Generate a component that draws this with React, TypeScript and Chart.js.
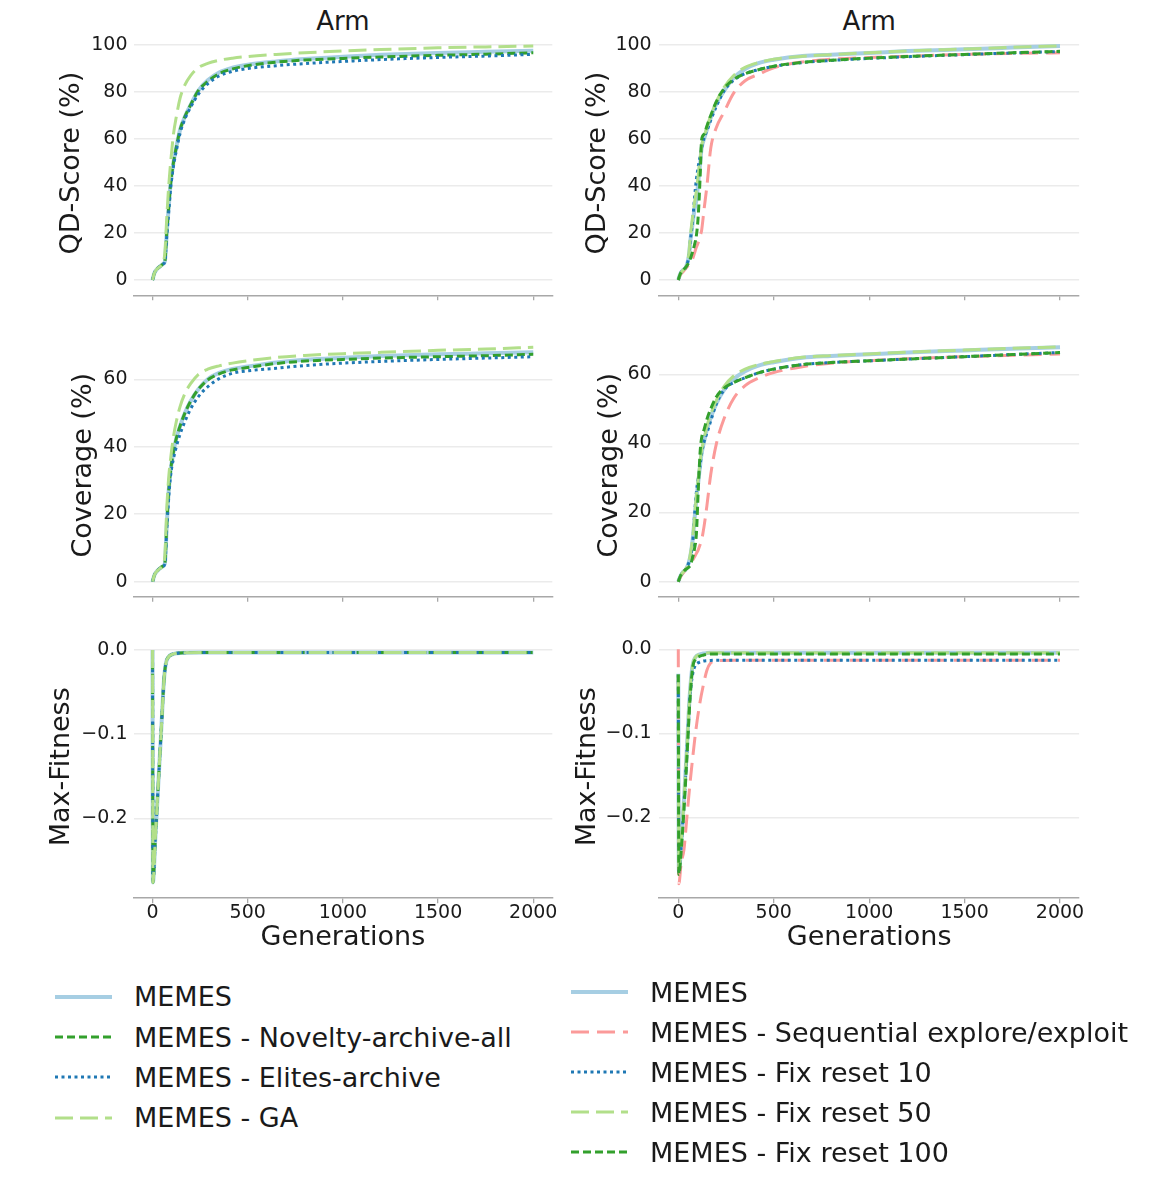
import React, { useEffect, useRef } from 'react';
import { Chart, registerables } from 'chart.js';

Chart.register(...registerables);

const FONT = '"DejaVu Sans", Verdana, sans-serif';

// ---------------- DATA: left column ----------------
const genL = [0, 10, 25, 40, 55, 65, 75, 85, 95, 110, 125, 145, 170, 200, 240, 290, 350, 420, 500, 650, 800, 1000, 1200, 1500, 1750, 2000];
const qdMemesL = [0, 3, 4.8, 5.8, 6.8, 8, 20.5, 31, 41, 50, 56.5, 64, 69.5, 74.5, 80.5, 85, 88.3, 90.3, 91.6, 93, 94, 95, 95.8, 96.6, 97.1, 97.6];
const qdNoveltyL = [0, 3, 4.8, 5.8, 6.8, 8, 20.5, 31, 41, 50, 56.5, 64, 69.5, 74.5, 80.5, 84.5, 87.8, 89.8, 91.2, 92.7, 93.6, 94.3, 94.9, 95.6, 96.1, 96.7];
const qdElitesL = [0, 3, 4.8, 5.8, 6.8, 7.8, 19, 29, 39, 48.5, 55, 62.5, 68.5, 73.5, 79, 83.5, 86.8, 88.8, 90, 91.2, 92.1, 93, 93.8, 94.7, 95.3, 96];
const qdGaL = [0, 3, 4.8, 5.8, 7, 12, 27, 40, 50, 62, 69.5, 77.5, 83, 87, 90.3, 92.2, 93.5, 94.4, 95.1, 96, 96.7, 97.5, 98.1, 98.8, 99.2, 99.6];

const covMemesL = [0, 2, 3.2, 4, 4.6, 5.5, 17, 27, 33, 38.5, 42.5, 46.2, 50, 53.5, 57, 60, 61.9, 63.1, 63.8, 65, 65.8, 66.4, 66.9, 67.4, 67.7, 68];
const covNoveltyL = [0, 2, 3.2, 4, 4.6, 5.5, 17, 27, 33, 38.5, 42.5, 46.2, 50, 53.5, 57, 59.8, 61.6, 62.8, 63.5, 64.7, 65.4, 65.9, 66.3, 66.7, 67, 67.4];
const covElitesL = [0, 2, 3.2, 4, 4.6, 5.3, 16, 25, 31.5, 36.5, 40, 43.8, 47.5, 51.2, 54.8, 57.8, 60.2, 61.8, 62.5, 63.3, 64.1, 64.8, 65.3, 65.9, 66.3, 66.7];
const covGaL = [0, 2, 3.2, 4, 4.8, 8, 22, 31, 36.5, 43, 47.5, 52, 55.8, 58.7, 61.4, 63, 64, 64.8, 65.5, 66.5, 67.1, 67.6, 68, 68.6, 69, 69.5];

const genFitL = [0, 2, 15, 30, 45, 60, 70, 85, 100, 130, 170, 250, 500, 1000, 1500, 2000];
const fitMemesL = [0, -0.276, -0.222, -0.16, -0.098, -0.036, -0.016, -0.008, -0.0055, -0.0038, -0.0032, -0.003, -0.003, -0.003, -0.003, -0.003];
const fitNoveltyL = [0, -0.276, -0.222, -0.16, -0.098, -0.036, -0.016, -0.008, -0.0055, -0.0038, -0.0032, -0.003, -0.003, -0.003, -0.003, -0.003];
const fitElitesL = [0, -0.276, -0.222, -0.16, -0.098, -0.036, -0.016, -0.008, -0.0055, -0.0038, -0.0032, -0.003, -0.003, -0.003, -0.003, -0.003];
const fitGaL = [0, -0.276, -0.222, -0.16, -0.098, -0.036, -0.016, -0.008, -0.0055, -0.0038, -0.0032, -0.003, -0.003, -0.003, -0.003, -0.003];

// ---------------- DATA: right column ----------------
const genR = [0, 10, 25, 40, 55, 65, 75, 85, 95, 105, 115, 122, 135, 150, 170, 200, 240, 290, 350, 420, 500, 650, 800, 1000, 1200, 1500, 1750, 2000];
const qdMemesR = [0, 2.5, 4.2, 5.5, 10, 18, 24, 30, 34, 42, 50, 56, 60, 64, 69, 75, 80.5, 86, 89.8, 92.3, 93.7, 95.3, 95.9, 96.6, 97.4, 98.2, 98.9, 99.6];
const qdSeqR = [0, 2, 3.5, 5, 6.5, 7.5, 9, 11.5, 14, 16, 19, 21, 30, 40, 56, 65, 71.5, 79.5, 84.8, 87.5, 90.3, 92.8, 94, 94.7, 95.2, 96, 96.4, 96.7];
const qdFix10R = [0, 2.5, 4.2, 5.5, 10, 18, 25, 35, 43, 48.5, 53, 56, 60.5, 63.5, 68, 74, 80.5, 85, 87.8, 89.5, 90.9, 92.5, 93.4, 94.3, 95, 95.9, 96.6, 97.2];
const qdFix50R = [0, 2.5, 4.2, 5.5, 11, 20, 27, 33, 38, 45, 52, 57, 61, 65, 70, 76, 82, 87, 90.5, 92.5, 93.9, 95.2, 95.9, 96.7, 97.5, 98.3, 99, 99.6];
const qdFix100R = [0, 2.5, 4.2, 5.5, 7.5, 9.5, 12, 15, 19, 28, 45, 59.5, 62, 65.5, 70, 76, 81.5, 85.3, 87.8, 89.5, 91, 92.6, 93.5, 94.4, 95.1, 96, 96.7, 97.3];

const covMemesR = [0, 1.5, 2.8, 3.6, 5.5, 8, 12, 18, 24, 29, 34, 37, 40.5, 44, 47.5, 51.6, 55.5, 58.6, 60.9, 62.5, 63.5, 64.8, 65.3, 65.8, 66.3, 66.9, 67.4, 67.8];
const covSeqR = [0, 1.2, 2.5, 3.6, 4.6, 5.4, 6.2, 7.2, 8.2, 9.3, 10.8, 12, 16, 22, 31, 40, 47.2, 53, 56.7, 58.9, 60.5, 62.2, 63.2, 63.9, 64.5, 65.1, 65.5, 65.9];
const covFix10R = [0, 1.5, 2.8, 3.6, 5.5, 7.5, 11, 19, 26, 30, 34, 37, 40.5, 43, 46.5, 51.5, 55.5, 57.6, 59, 60.4, 61.5, 62.8, 63.4, 63.9, 64.4, 65.1, 65.7, 66.3];
const covFix50R = [0, 1.5, 2.8, 3.6, 5.8, 8.5, 12.5, 18.5, 25, 30, 35, 38, 41.5, 45, 48.5, 52.5, 56.5, 59.5, 61.5, 62.8, 63.7, 64.9, 65.4, 65.9, 66.4, 67, 67.5, 67.9];
const covFix100R = [0, 1.5, 2.8, 3.6, 4.2, 5, 7, 9.5, 14, 27, 38, 41.5, 44, 47, 50, 53.5, 56, 57.6, 59, 60.4, 61.5, 62.8, 63.4, 63.9, 64.4, 65.1, 65.7, 66.3];

const genFitR = [0, 3, 15, 30, 45, 60, 75, 90, 110, 130, 150, 170, 200, 300, 500, 1000, 1500, 2000];
const fitMemesR = [-0.029, -0.265, -0.232, -0.178, -0.118, -0.055, -0.019, -0.0095, -0.0062, -0.005, -0.0045, -0.0042, -0.004, -0.004, -0.004, -0.004, -0.004, -0.004];
const fitSeqR = [0, -0.279, -0.255, -0.238, -0.2, -0.163, -0.13, -0.1, -0.068, -0.044, -0.025, -0.016, -0.0135, -0.013, -0.013, -0.013, -0.013, -0.013];
const fitFix10R = [-0.03, -0.266, -0.235, -0.183, -0.123, -0.06, -0.03, -0.019, -0.0155, -0.014, -0.0135, -0.0132, -0.013, -0.013, -0.013, -0.013, -0.013, -0.013];
const fitFix50R = [-0.03, -0.265, -0.232, -0.178, -0.118, -0.055, -0.019, -0.0095, -0.0062, -0.005, -0.0045, -0.0042, -0.004, -0.004, -0.004, -0.004, -0.004, -0.004];
const fitFix100R = [-0.03, -0.268, -0.24, -0.19, -0.13, -0.065, -0.022, -0.012, -0.0085, -0.007, -0.006, -0.0056, -0.0055, -0.0055, -0.0055, -0.0055, -0.0055, -0.0055];

// ---------------- ticks / labels ----------------
const xTicks = [0, 500, 1000, 1500, 2000];
const xTickLabels = ['0', '500', '1000', '1500', '2000'];
const qdTicks = [0, 20, 40, 60, 80, 100];
const covTicks = [0, 20, 40, 60];
const fitTicks = [-0.2, -0.1, 0];
const columnTitle = 'Arm';
const xTitle = 'Generations';
const yTitles = ['QD-Score (%)', 'Coverage (%)', 'Max-Fitness'];

const labelsL = ['MEMES', 'MEMES - Novelty-archive-all', 'MEMES - Elites-archive', 'MEMES - GA'];
const labelsR = ['MEMES', 'MEMES - Sequential explore/exploit', 'MEMES - Fix reset 10', 'MEMES - Fix reset 50', 'MEMES - Fix reset 100'];

// ---------------- styles ----------------
type Style = { color: string; dash: number[]; width: number };
const S_MEMES: Style = { color: '#a6cee3', dash: [], width: 4 };
const S_SHORT: Style = { color: '#33a02c', dash: [8, 4], width: 3 };
const S_DOT: Style = { color: '#1f78b4', dash: [3, 3.5], width: 3 };
const S_GA: Style = { color: '#b2df8a', dash: [18, 7], width: 3 };
const S_SEQ: Style = { color: '#fb9a99', dash: [18, 8], width: 3 };

const stylesL = [S_MEMES, S_SHORT, S_DOT, S_GA];
const stylesR = [S_MEMES, S_SEQ, S_DOT, S_GA, S_SHORT];

type Series = { label: string; style: Style; gens: number[]; values: number[] };

function mk(labels: string[], styles: Style[], gens: number[], vals: number[][]): Series[] {
  return vals.map((v, i) => ({ label: labels[i], style: styles[i], gens, values: v }));
}

const cols = [
  { canvasLeft: 0, canvasW: 565, plotLeft: 133.5, plotRight: 552.3, titlePad: [55.5, 67.8, 45.5], tickPad: 6 },
  { canvasLeft: 565, canvasW: 591, plotLeft: 659.2, plotRight: 1079.1, titlePad: [16.8, 28.8, 6.3], tickPad: 7.5 },
];
// canvases overlap a little so that every chart has enough room around its plot area
const rows = [
  { top: 0, height: 325, chartTop: 30.9, chartBottom: 295.3, xH: 10 },
  { top: 300, height: 325, chartTop: 333.8, chartBottom: 596.7, xH: 10 },
  { top: 600, height: 380, chartTop: 635.3, chartBottom: 898.3, xH: 70 },
];
const yRanges = [
  [[-6.51, 106], [-6.51, 106]],
  [[-4.45, 73.5], [-4.34, 71.71]],
  [[-0.2949, 0.01746], [-0.2964, 0.01667]],
];

const panelSeries: Series[][][] = [
  [
    mk(labelsL, stylesL, genL, [qdMemesL, qdNoveltyL, qdElitesL, qdGaL]),
    mk(labelsR, stylesR, genR, [qdMemesR, qdSeqR, qdFix10R, qdFix50R, qdFix100R]),
  ],
  [
    mk(labelsL, stylesL, genL, [covMemesL, covNoveltyL, covElitesL, covGaL]),
    mk(labelsR, stylesR, genR, [covMemesR, covSeqR, covFix10R, covFix50R, covFix100R]),
  ],
  [
    mk(labelsL, stylesL, genFitL, [fitMemesL, fitNoveltyL, fitElitesL, fitGaL]),
    mk(labelsR, stylesR, genFitR, [fitMemesR, fitSeqR, fitFix10R, fitFix50R, fitFix100R]),
  ],
];
const yTickSets = [qdTicks, covTicks, fitTicks];

function fmtY(row: number, v: number): string {
  if (row === 2) {
    if (Math.abs(v) < 1e-9) return '0.0';
    return (v < 0 ? '\u2212' : '') + Math.abs(v).toFixed(1);
  }
  return String(v);
}

function fmtX(v: number): string {
  const i = xTicks.indexOf(v);
  return i >= 0 ? xTickLabels[i] : String(v);
}

function Panel({ r, c }: { r: number; c: number }) {
  const ref = useRef<HTMLCanvasElement>(null);
  const row = rows[r];
  const col = cols[c];
  useEffect(() => {
    const series = panelSeries[r][c];
    const n = series.length;
    const datasets = series.map((s, i) => ({
      label: s.label,
      data: s.gens.map((g, k) => ({ x: g, y: s.values[k] })),
      borderColor: s.style.color,
      backgroundColor: s.style.color,
      borderWidth: s.style.width,
      borderDash: s.style.dash,
      borderCapStyle: 'butt' as const,
      pointRadius: 0,
      fill: false,
      cubicInterpolationMode: 'monotone' as const,
      order: n - i,
    }));
    const last = r === 2;
    const yt = yTickSets[r];
    const chart = new Chart(ref.current as HTMLCanvasElement, {
      type: 'line',
      data: { datasets },
      options: {
        animation: false,
        responsive: false,
        maintainAspectRatio: false,
        events: [],
        layout: {
          padding: {
            top: row.chartTop - row.top,
            bottom: row.top + row.height - row.chartBottom - row.xH,
            left: 0,
            right: col.canvasLeft + col.canvasW - col.plotRight,
          },
        },
        plugins: { legend: { display: false }, tooltip: { enabled: false }, title: { display: false } },
        scales: {
          x: {
            type: 'linear',
            min: -100,
            max: 2100,
            afterBuildTicks: (s: any) => { s.ticks = xTicks.map((v) => ({ value: v })); },
            afterFit: (s: any) => { s.height = row.xH; },
            grid: { display: true, drawOnChartArea: false, drawTicks: true, tickLength: 5, color: '#a8a8a8', lineWidth: 1.3 },
            border: { display: true, color: '#a8a8a8', width: 1.6 },
            ticks: {
              display: last,
              autoSkip: false,
              maxRotation: 0,
              padding: 0.5,
              color: '#1a1a1a',
              font: { family: FONT, size: 19, lineHeight: 1.0 },
              callback: (v: any) => fmtX(Number(v)),
            },
            title: {
              display: last,
              text: xTitle,
              color: '#1a1a1a',
              font: { family: FONT, size: 27, lineHeight: 1.0 },
              padding: { top: 0, bottom: 17.3 },
            },
          },
          y: {
            type: 'linear',
            min: yRanges[r][c][0],
            max: yRanges[r][c][1],
            afterBuildTicks: (s: any) => { s.ticks = yt.map((v) => ({ value: v })); },
            afterFit: (s: any) => { s.width = col.plotLeft - col.canvasLeft; },
            grid: { color: '#ebebeb', lineWidth: 1.5, drawTicks: false },
            border: { display: false },
            ticks: {
              padding: col.tickPad,
              color: '#1a1a1a',
              font: { family: FONT, size: 19, lineHeight: 1.0 },
              callback: (v: any) => fmtY(r, Number(v)),
            },
            title: {
              display: true,
              text: yTitles[r],
              color: '#1a1a1a',
              font: { family: FONT, size: 27, lineHeight: 1.2 },
              padding: { top: col.titlePad[r], bottom: 0 },
            },
          },
        },
      } as any,
    });
    return () => chart.destroy();
  }, [r, c]);
  return (
    <canvas
      ref={ref}
      width={col.canvasW}
      height={row.height}
      style={{ position: 'absolute', left: col.canvasLeft, top: row.top, width: col.canvasW, height: row.height, display: 'block' }}
    />
  );
}

function LegendBlock({ labels, styles, x1, x2, textX, y0, dy, size }: { labels: string[]; styles: Style[]; x1: number; x2: number; textX: number; y0: number; dy: number; size: number }) {
  return (
    <>
      {labels.map((lab, i) => {
        const cy = y0 + i * dy;
        const st = styles[i];
        return (
          <React.Fragment key={lab + i}>
            <svg style={{ position: 'absolute', left: x1, top: cy - 5, width: x2 - x1, height: 10 }} width={x2 - x1} height={10}>
              <line x1={0} y1={5} x2={x2 - x1} y2={5} stroke={st.color} strokeWidth={st.width} strokeDasharray={st.dash.length ? st.dash.join(' ') : undefined} />
            </svg>
            <div
              style={{
                position: 'absolute',
                left: textX,
                top: cy - 15.5,
                fontFamily: FONT,
                fontSize: size,
                lineHeight: '32px',
                color: '#1a1a1a',
                whiteSpace: 'nowrap',
              }}
            >
              {lab}
            </div>
          </React.Fragment>
        );
      })}
    </>
  );
}

export default function App() {
  return (
    <div style={{ position: 'absolute', left: 0, top: 0, width: 1156, height: 1178, background: '#ffffff', overflow: 'hidden' }}>
      {[0, 1].map((c) => (
        <div
          key={'t' + c}
          style={{
            position: 'absolute',
            left: (cols[c].plotLeft + cols[c].plotRight) / 2 - 100,
            width: 200,
            top: 5,
            textAlign: 'center',
            fontFamily: FONT,
            fontSize: 26,
            lineHeight: '32px',
            color: '#1a1a1a',
          }}
        >
          {columnTitle}
        </div>
      ))}
      {[0, 1, 2].map((r) => [0, 1].map((c) => <Panel key={r + '-' + c} r={r} c={c} />))}
      <LegendBlock labels={labelsL} styles={stylesL} x1={55} x2={112} textX={134} y0={996.7} dy={40.3} size={27} />
      <LegendBlock labels={labelsR} styles={stylesR} x1={571} x2={628} textX={650} y0={992.3} dy={40} size={27} />
    </div>
  );
}
